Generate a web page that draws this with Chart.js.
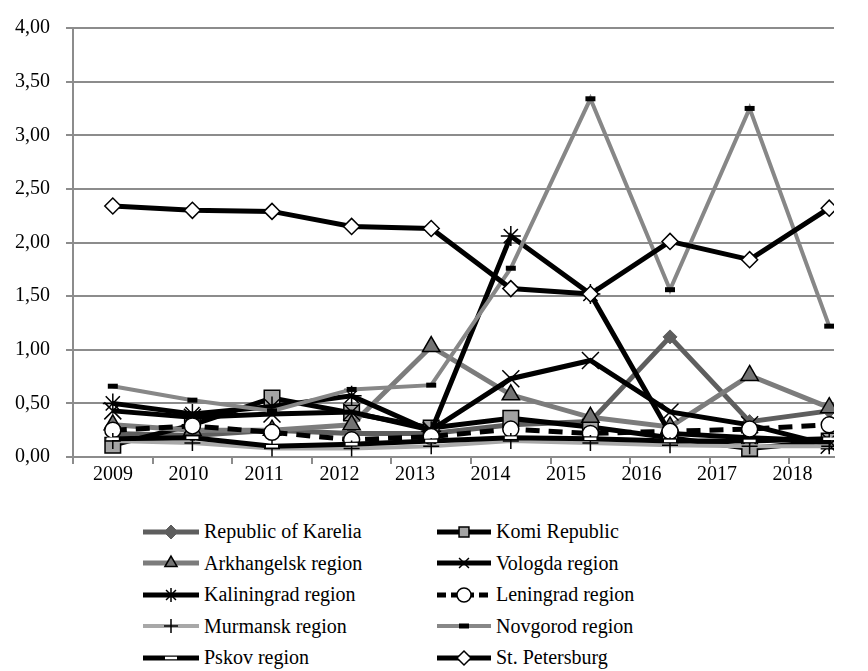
<!DOCTYPE html>
<html>
<head>
<meta charset="utf-8">
<script src="https://cdn.jsdelivr.net/npm/chart.js@4/dist/chart.umd.min.js"></script>
<style>
    body { margin: 0; background: #fff; }
    #wrap { position: relative; width: 868px; height: 671px; }
    #myChart { position: absolute; left: 0; top: 0; }
    .leg-item {
        position: absolute; height: 31px; display: flex; align-items: center;
        font-family: "Liberation Serif", "Times New Roman", serif; font-size: 20px; color: #000;
        white-space: nowrap;
    }
    .leg-item canvas { margin-right: 5px; }
</style>
</head>
<body>
<div id="wrap">
    <canvas id="myChart" width="868" height="500"></canvas>
    <div id="legend"></div>
</div>
<script>
// values
const years = ['2009', '2010', '2011', '2012', '2013', '2014', '2015', '2016', '2017', '2018'];
const karelia = [0.22, 0.20, 0.25, 0.22, 0.22, 0.30, 0.33, 1.12, 0.33, 0.43];
const komi = [0.11, 0.30, 0.55, 0.41, 0.27, 0.36, 0.28, 0.18, 0.08, 0.15];
const arkhangelsk = [0.30, 0.25, 0.25, 0.30, 1.03, 0.58, 0.37, 0.28, 0.76, 0.46];
const vologda = [0.43, 0.37, 0.40, 0.42, 0.25, 0.73, 0.90, 0.42, 0.30, 0.11];
const kaliningrad = [0.50, 0.40, 0.47, 0.57, 0.24, 2.06, 1.52, 0.22, 0.18, 0.15];
const leningrad = [0.25, 0.29, 0.23, 0.16, 0.19, 0.26, 0.22, 0.24, 0.26, 0.30];
const murmansk = [0.15, 0.13, 0.08, 0.08, 0.10, 0.15, 0.13, 0.11, 0.10, 0.10];
const novgorod = [0.66, 0.53, 0.43, 0.63, 0.67, 1.76, 3.34, 1.56, 3.25, 1.22];
const pskov = [0.17, 0.18, 0.10, 0.12, 0.15, 0.18, 0.17, 0.15, 0.15, 0.17];
const stPetersburg = [2.34, 2.30, 2.29, 2.15, 2.13, 1.57, 1.52, 2.01, 1.84, 2.32];
const yMin = 0, yMax = 4, yStep = 0.5;

const names = ['Republic of Karelia', 'Komi Republic', 'Arkhangelsk region', 'Vologda region',
    'Kaliningrad region', 'Leningrad region', 'Murmansk region', 'Novgorod region',
    'Pskov region', 'St. Petersburg'];
const values = [karelia, komi, arkhangelsk, vologda, kaliningrad, leningrad, murmansk, novgorod, pskov, stPetersburg];

// in the original the year labels sit on a slightly tighter spacing than the points
const pointRange = { min: -0.5, max: 9.06 };
const labelRange = { min: -0.53, max: 9.55 };

// look of each series
const styles = [
    { line: '#5e5e5e', width: 5, style: 'rectRot', r: 7, fill: '#5e5e5e', border: '#5e5e5e', bw: 1 },
    { line: '#000', width: 5, style: 'rect', r: 11, fill: '#a3a3a3', border: '#000', bw: 1.5 },
    { line: '#7c7c7c', width: 5, style: 'triangle', r: 10, fill: '#737373', border: '#000', bw: 1.5 },
    { line: '#000', width: 5, style: 'crossRot', r: 12, fill: '#000', border: '#000', bw: 1.5 },
    { line: '#000', width: 5, style: 'star', r: 10, fill: '#000', border: '#000', bw: 1.5 },
    { line: '#000', width: 5, style: 'circle', r: 8, fill: '#fff', border: '#000', bw: 1.5, dash: [14, 9] },
    { line: '#a8a8a8', width: 4, style: 'cross', r: 8, fill: '#000', border: '#000', bw: 1.5 },
    { line: '#878787', width: 4, style: 'line', r: 5, fill: '#000', border: '#000', bw: 5 },
    { line: '#000', width: 5, style: 'line', r: 6, fill: '#fff', border: '#fff', bw: 2.5 },
    { line: '#000', width: 5, style: 'rectRot', r: 8, fill: '#fff', border: '#000', bw: 1.5 }
];

const datasets = names.map(function (name, i) {
    const s = styles[i];
    return {
        label: name,
        data: values[i].map(function (v, k) { return { x: k, y: v }; }),
        borderColor: s.line,
        borderWidth: s.width,
        borderDash: s.dash || [],
        pointStyle: s.style,
        pointRadius: s.r,
        pointBackgroundColor: s.fill,
        pointBorderColor: s.border,
        pointBorderWidth: s.bw,
        tension: 0,
        order: names.length - i
    };
});

const fontFamily = '"Liberation Serif", "Times New Roman", serif';

new Chart(document.getElementById('myChart'), {
    type: 'line',
    data: { datasets: datasets },
    options: {
        responsive: false,
        animation: false,
        layout: { padding: { top: 17, right: 34, left: 0, bottom: 0 } },
        plugins: { legend: { display: false }, tooltip: { enabled: false } },
        scales: {
            x: {
                type: 'linear',
                min: pointRange.min,
                max: pointRange.max,
                weight: 0,
                grid: { drawOnChartArea: false, color: '#8c8c8c', lineWidth: 2, tickLength: 7 },
                border: { color: '#8c8c8c', width: 2 },
                ticks: { display: false },
                afterBuildTicks: function (scale) {
                    // tick marks between the years
                    scale.ticks = years.map(function (y, k) { return { value: k - 0.5 }; });
                },
                afterFit: function (scale) { scale.height = 6; }
            },
            x2: {
                type: 'linear',
                position: 'bottom',
                min: labelRange.min,
                max: labelRange.max,
                weight: 1,
                grid: { display: false, drawTicks: false },
                border: { display: false },
                ticks: {
                    color: '#000',
                    font: { family: fontFamily, size: 20 },
                    padding: 0,
                    maxRotation: 0,
                    autoSkip: false,
                    callback: function (v) { return years[v]; }
                },
                afterBuildTicks: function (scale) {
                    scale.ticks = years.map(function (y, k) { return { value: k }; });
                },
                afterFit: function (scale) { scale.height = 37; }
            },
            y: {
                min: yMin,
                max: yMax,
                grid: { color: '#8c8c8c', lineWidth: 2, tickLength: 7 },
                border: { color: '#8c8c8c', width: 2 },
                ticks: {
                    stepSize: yStep,
                    color: '#000',
                    font: { family: fontFamily, size: 20 },
                    padding: 16,
                    callback: function (v) { return v.toFixed(2).replace('.', ','); }
                },
                afterFit: function (scale) { scale.width = 73; }
            }
        }
    }
});

// two-column legend under the chart
const legend = document.getElementById('legend');
names.forEach(function (name, i) {
    const s = styles[i];
    const col = i % 2, row = Math.floor(i / 2);
    const item = document.createElement('div');
    item.className = 'leg-item';
    item.style.left = (col ? 437 : 143) + 'px';
    item.style.top = (516 + row * 31.5) + 'px';
    const c = document.createElement('canvas');
    const w = col ? 54 : 56;
    c.width = w; c.height = 24;
    const ctx = c.getContext('2d');
    ctx.strokeStyle = s.line;
    ctx.lineWidth = s.width;
    ctx.setLineDash(s.dash ? [9, 5] : []);
    ctx.beginPath(); ctx.moveTo(0, 12); ctx.lineTo(w, 12); ctx.stroke();
    ctx.setLineDash([]);
    ctx.fillStyle = s.fill;
    ctx.strokeStyle = s.border;
    ctx.lineWidth = s.bw;
    Chart.helpers.drawPoint(ctx, { pointStyle: s.style, radius: Math.min(s.r, 7), rotation: 0, borderWidth: s.bw }, w / 2, 12);
    item.appendChild(c);
    const t = document.createElement('span');
    t.textContent = name;
    item.appendChild(t);
    legend.appendChild(item);
});
</script>
</body>
</html>
